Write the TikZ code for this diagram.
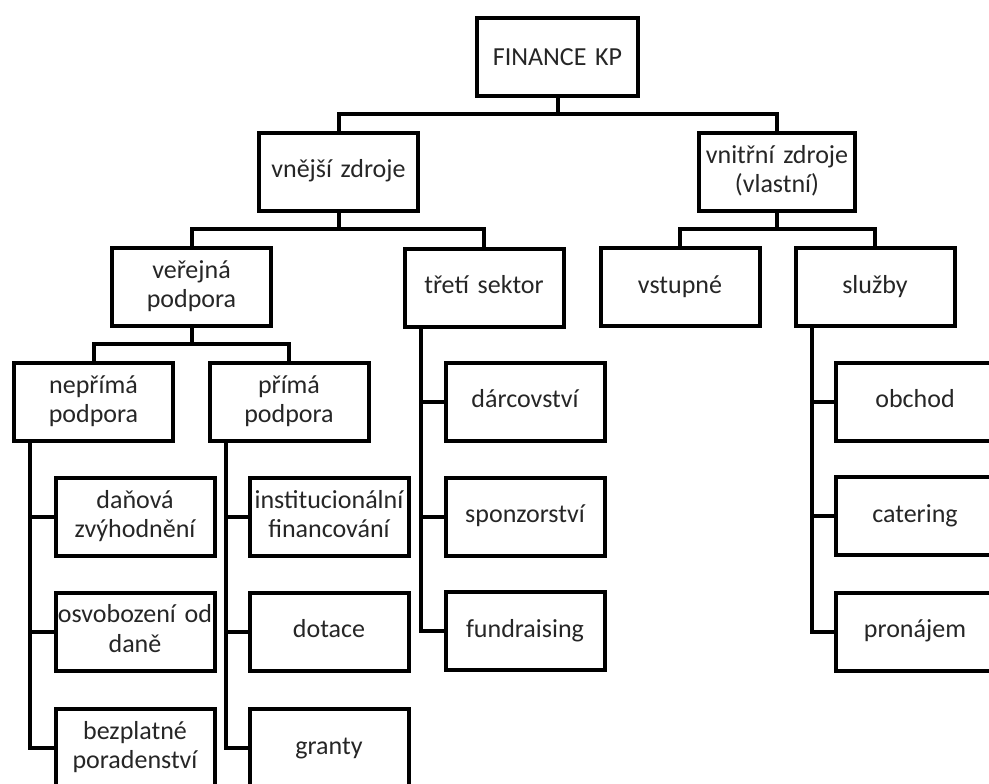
\documentclass[tikz,border=0pt]{standalone}
\usepackage{fontspec}
\setmainfont{Carlito}
\usepackage{tikz}
\tikzstyle{chart} = [x = 1pt, y = -1pt]
\definecolor{textColor}{RGB}{38,38,38}
\tikzstyle{boxStyle} = [draw=black, line width=4pt, fill=white, minimum height=78pt, inner sep=0pt, text width=159pt, align=center, text=textColor, font=\fontsize{26}{29.5}\selectfont, text height=19pt, text depth=7pt]
\tikzstyle{twoLines} = [text height=19pt, text depth=37pt]
\tikzstyle{linkStyle} = [draw=black, line width=4pt]
\newcommand{\topLink}[2]{\draw [linkStyle] (#1.south) -- ++(0,16) -| (#2.north);}
\newcommand{\sideLink}[2]{\draw [linkStyle] ([xshift=18pt]#1.south west) |- (#2.west);}
\begin{document}
\begin{tikzpicture}[chart]
  \clip (0,0) rectangle (989,784);
  \fill [white] (0,0) rectangle (989,784);
  % top levels
  \node [boxStyle, text width=161pt, text height=20.5pt, text depth=4.5pt] (fin) at (557.5,57.5) {FINANCE KP};
  \node [boxStyle] (vnejsi) at (338.5,171.5) {vnější zdroje};
  \node [boxStyle, twoLines, text width=156pt] (vnitrni) at (777,172) {vnitřní zdroje\\(vlastní)};
  \node [boxStyle, twoLines] (verejna) at (191.5,287) {veřejná\\podpora};
  \node [boxStyle] (treti) at (484,287.5) {třetí sektor};
  \node [boxStyle] (vstupne) at (680,287) {vstupné};
  \node [boxStyle] (sluzby) at (875,287) {služby};
  \node [boxStyle, twoLines] (neprima) at (93.5,402) {nepřímá\\podpora};
  \node [boxStyle, twoLines] (prima) at (289,402) {přímá\\podpora};
  % leaves
  \node [boxStyle, twoLines] (danova) at (135,517) {daňová\\zvýhodnění};
  \node [boxStyle, twoLines] (osvobozeni) at (135,631.5) {\makebox[\linewidth]{osvobození od}\\daně};
  \node [boxStyle, twoLines] (poradenstvi) at (135,748) {bezplatné\\poradenství};
  \node [boxStyle, twoLines] (instituce) at (329,517) {\makebox[\linewidth]{institucionální}\\financování};
  \node [boxStyle] (dotace) at (329,631.5) {dotace};
  \node [boxStyle] (granty) at (329,748) {granty};
  \node [boxStyle] (darcovstvi) at (525,401.5) {dárcovství};
  \node [boxStyle] (sponzorstvi) at (525,516.5) {sponzorství};
  \node [boxStyle] (fundraising) at (525,631) {fundraising};
  \node [boxStyle] (obchod) at (915,401.5) {obchod};
  \node [boxStyle] (catering) at (915,516) {catering};
  \node [boxStyle] (pronajem) at (915,631.5) {pronájem};
  % links
  \topLink{fin}{vnejsi}\topLink{fin}{vnitrni}
  \topLink{vnejsi}{verejna}\topLink{vnejsi}{treti}
  \topLink{vnitrni}{vstupne}\topLink{vnitrni}{sluzby}
  \topLink{verejna}{neprima}\topLink{verejna}{prima}
  \sideLink{neprima}{danova}\sideLink{neprima}{osvobozeni}\sideLink{neprima}{poradenstvi}
  \sideLink{prima}{instituce}\sideLink{prima}{dotace}\sideLink{prima}{granty}
  \sideLink{treti}{darcovstvi}\sideLink{treti}{sponzorstvi}\sideLink{treti}{fundraising}
  \sideLink{sluzby}{obchod}\sideLink{sluzby}{catering}\sideLink{sluzby}{pronajem}
\end{tikzpicture}
\end{document}
